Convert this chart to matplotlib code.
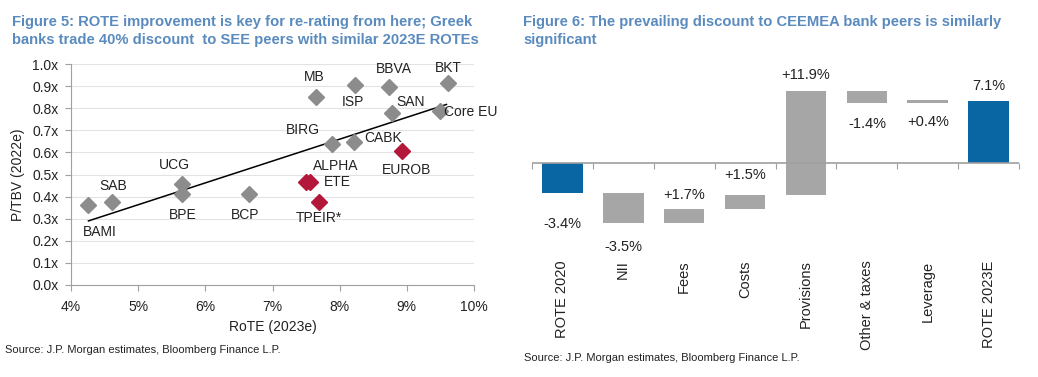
import numpy as np
import matplotlib
matplotlib.use('Agg')
import matplotlib.pyplot as plt
from matplotlib.ticker import FuncFormatter

plt.rcParams['font.family'] = ['Liberation Sans', 'DejaVu Sans']

# Figure 5 data: RoTE 2023e (%) vs P/TBV 2022e (x)
banks = ['BAMI', 'SAB', 'UCG', 'BPE', 'BCP', 'MB', 'ISP', 'BBVA', 'BKT', 'SAN',
         'Core EU', 'BIRG', 'CABK', 'EUROB', 'ALPHA', 'ETE', 'TPEIR*']
rote = [4.26, 4.61, 5.66, 5.66, 6.65, 7.65, 8.23, 8.73, 9.62, 8.78,
        9.49, 7.88, 8.22, 8.93, 7.50, 7.56, 7.69]
ptbv = [0.362, 0.377, 0.456, 0.41, 0.41, 0.849, 0.905, 0.897, 0.914, 0.777,
        0.787, 0.636, 0.648, 0.608, 0.465, 0.465, 0.377]
greek = ['EUROB', 'ALPHA', 'ETE', 'TPEIR*']
trend_x = [4.26, 9.59]
trend_y = [0.29, 0.817]

# Figure 6 data: ROTE bridge 2020 -> 2023E (%)
steps = ['ROTE 2020', 'NII', 'Fees', 'Costs', 'Provisions', 'Other & taxes', 'Leverage', 'ROTE 2023E']
changes = [-3.4, -3.5, 1.7, 1.5, 11.9, -1.4, 0.4]
rote_2023 = 7.1
value_labels = ['-3.4%', '-3.5%', '+1.7%', '+1.5%', '+11.9%', '-1.4%', '+0.4%', '7.1%']

# label layout (pixel offsets, alignment)
lab_pos = {
    'BAMI': (11, -27, 'center'), 'SAB': (1, 16, 'center'), 'UCG': (-8, 19, 'center'),
    'BPE': (0, -21, 'center'), 'BCP': (-4, -21, 'center'), 'MB': (-2, 20, 'center'),
    'ISP': (-2, -17, 'center'), 'BBVA': (5, 18, 'center'), 'BKT': (0, 15, 'center'),
    'SAN': (19, 11, 'center'), 'Core EU': (4, -1, 'left'), 'BIRG': (-29, 14, 'center'),
    'CABK': (29, 4, 'center'), 'EUROB': (4, -19, 'center'), 'ALPHA': (30, 16, 'center'),
    'ETE': (14, 0, 'left'), 'TPEIR*': (0, -16, 'center'),
}
# bar value labels: below the bar or above, and gap in pixels
label_below = [True, True, False, False, False, True, True, False]
label_gap = [24, 17, 7, 13, 9, 14, 12, 8]

title_col = '#5a8bbf'
grey = '#8c8c8c'
red = '#b3173a'
blue = '#0a66a3'
bar_grey = '#a6a6a6'
axis_col = '#a0a0a0'
txt = '#222222'

fig = plt.figure(figsize=(10.38, 3.77), dpi=100)

# ---- Figure 5 ----
ax = fig.add_axes([71/1038, 92/377, 403/1038, 221/377])
for b, x, y in zip(banks, rote, ptbv):
    c = red if b in greek else grey
    ax.plot(x, y, marker='D', color=c, markersize=8.5, linestyle='none', zorder=3)
    dx, dy, ha = lab_pos[b]
    ax.annotate(b, (x, y), xytext=(dx*0.72, dy*0.72), textcoords='offset points',
                ha=ha, va='center', fontsize=10, color=txt)
ax.plot(trend_x, trend_y, color='black', lw=1.1, zorder=2)
ax.set_xlim(4, 10)
ax.set_ylim(0, 1.0)
ax.set_xticks(np.arange(4, 10.01, 1))
ax.set_yticks(np.arange(0, 1.01, 0.1))
ax.xaxis.set_major_formatter(FuncFormatter(lambda v, p: f'{v:.0f}%'))
ax.yaxis.set_major_formatter(FuncFormatter(lambda v, p: f'{v:.1f}x'))
ax.grid(axis='y', color='#e3e3e3', lw=0.8)
ax.set_axisbelow(True)
for s in ['top', 'right']:
    ax.spines[s].set_visible(False)
for s in ['left', 'bottom']:
    ax.spines[s].set_color(axis_col)
ax.tick_params(colors=axis_col, labelcolor=txt, labelsize=10, length=4)
ax.tick_params(axis='x', pad=7)
ax.tick_params(axis='y', pad=5)
ax.set_xlabel('RoTE (2023e)', fontsize=10, color=txt, labelpad=4)
ax.set_ylabel('P/TBV (2022e)', fontsize=10, color=txt, labelpad=5)

fig.text(12/1038, 1 - 22/377, 'Figure 5: ROTE improvement is key for re-rating from here; Greek',
         fontsize=10.6, fontweight='bold', color=title_col, va='center')
fig.text(12/1038, 1 - 40/377, 'banks trade 40% discount  to SEE peers with similar 2023E ROTEs',
         fontsize=10.6, fontweight='bold', color=title_col, va='center')
fig.text(5/1038, 1 - 350/377, 'Source: J.P. Morgan estimates, Bloomberg Finance L.P.',
         fontsize=8, color=txt, va='center')

# ---- Figure 6 ----
ax2 = fig.add_axes([531.7/1038, 122/377, 487.6/1038, 193/377])
ymin, ymax = -10.5, 11.5
pos = np.arange(len(steps))
bottoms = [0]
heights = [changes[0]]
level = changes[0]
for ch in changes[1:]:
    bottoms.append(level)
    heights.append(ch)
    level += ch
bottoms.append(0)
heights.append(rote_2023)
colors = [blue] + [bar_grey] * (len(steps) - 2) + [blue]
ax2.bar(pos, heights, bottom=bottoms, width=0.67, color=colors, zorder=2)
for i in range(len(steps)):
    lo = min(bottoms[i], bottoms[i] + heights[i])
    hi = max(bottoms[i], bottoms[i] + heights[i])
    g = label_gap[i] * 0.72
    if label_below[i]:
        ax2.annotate(value_labels[i], (pos[i], lo), xytext=(0, -g), textcoords='offset points',
                     ha='center', va='top', fontsize=10.5, color=txt)
    else:
        ax2.annotate(value_labels[i], (pos[i], hi), xytext=(0, g), textcoords='offset points',
                     ha='center', va='bottom', fontsize=10.5, color=txt)
ax2.axhline(0, color=axis_col, lw=1.2, zorder=3)
ax2.set_xlim(-0.5, len(steps) - 0.5)
ax2.set_ylim(ymin, ymax)
ax2.set_yticks([])
ax2.set_xticks(pos)
ax2.set_xticklabels(steps, rotation=90, fontsize=10.5, color=txt)
ax2.tick_params(axis='x', length=0, pad=4)
for s in ax2.spines.values():
    s.set_visible(False)
sec = ax2.secondary_xaxis((0 - ymin) / (ymax - ymin))
sec.set_xticks(np.arange(-0.5, len(steps), 1))
sec.set_xticklabels([])
sec.tick_params(axis='x', length=4, color=axis_col, direction='out')
sec.spines['bottom'].set_visible(False)

fig.text(523/1038, 1 - 22/377, 'Figure 6: The prevailing discount to CEEMEA bank peers is similarly',
         fontsize=10.6, fontweight='bold', color=title_col, va='center')
fig.text(523/1038, 1 - 40/377, 'significant',
         fontsize=10.6, fontweight='bold', color=title_col, va='center')
fig.text(524/1038, 1 - 358/377, 'Source: J.P. Morgan estimates, Bloomberg Finance L.P.',
         fontsize=8, color=txt, va='center')

fig.savefig('out.png', dpi=100)
